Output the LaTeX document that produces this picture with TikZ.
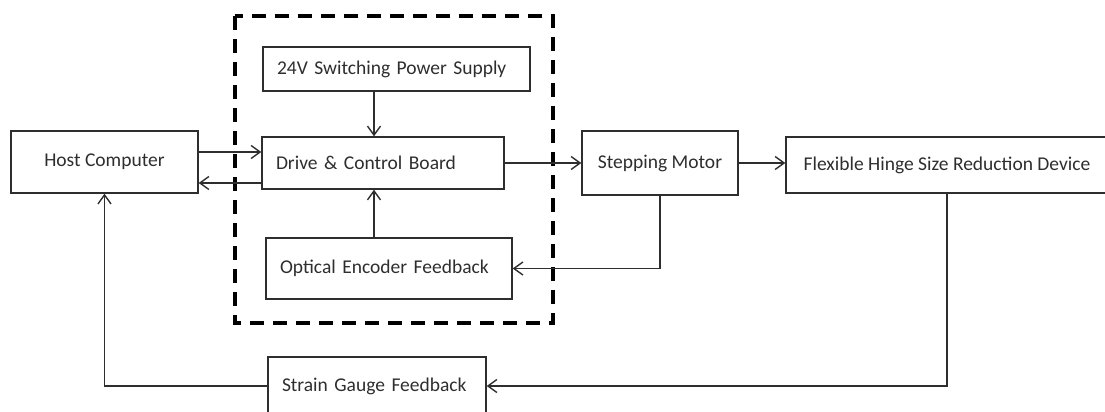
\documentclass[tikz,border=0pt]{standalone}
\usepackage{fontspec}
\setmainfont{Carlito}
\usepackage{tikz}
\usetikzlibrary{arrows.meta}
\tikzset{>={Straight Barb[length=9pt,width=13pt,line width=1.4pt]}}
\definecolor{inkgray}{HTML}{2E2E2E}
\tikzset{
  block/.style={draw=inkgray, line width=1.4pt, text=inkgray, inner xsep=14pt,
    inner ysep=0pt, align=left, font=\fontsize{19.5}{23}\selectfont},
  midblock/.style={block, align=center},
  link/.style={->, draw=inkgray, line width=1.6pt},
}

\begin{document}
\begin{tikzpicture}[x=1pt, y=-1pt]
  \useasboundingbox (0,0) rectangle (1105,412);
  \clip (0,0) rectangle (1105,412);

  \node[midblock, minimum width=187pt, minimum height=62pt] (host)
    at (104.5,162) {Host Computer};
  \node[block, text width=239pt, minimum height=44pt] (supply)
    at (396.5,69) {24V Switching Power Supply};
  \node[block, text width=214pt, minimum height=52pt] (board)
    at (383,163) {Drive \& Control Board};
  \node[block, text width=218pt, minimum height=61pt] (encoder)
    at (389,268.5) {Optical Encoder Feedback};
  \node[midblock, minimum width=156pt, minimum height=64pt] (motor)
    at (660,163) {Stepping Motor};
  \node[midblock, minimum width=322pt, minimum height=56pt] (hinge)
    at (947,165) {Flexible Hinge Size Reduction Device};
  \node[block, text width=190pt, minimum height=58pt] (strain)
    at (377,386) {Strain Gauge Feedback};

  % controller enclosure
  \draw[black, line width=4pt, dash pattern=on 14pt off 9pt]
    (235,16) rectangle (553,323);

  \draw[link] (host.east |- 0,152) -- (board.west |- 0,152);
  \draw[link] (board.west |- 0,183) -- (host.east |- 0,183);
  \draw[link] (supply.south -| 374,0) -- (board.north -| 374,0);
  \draw[link] (encoder.north -| 374,0) -- (board.south -| 374,0);
  \draw[link] (board.east) -- (motor.west);
  \draw[link] (motor.east) -- (motor.east -| hinge.west);

  % feedback paths
  \draw[link] (motor.south) |- (encoder.east);
  \draw[link] (hinge.south) |- (strain.east);
  \draw[link] (strain.west) -| (host.south);
\end{tikzpicture}
\end{document}
